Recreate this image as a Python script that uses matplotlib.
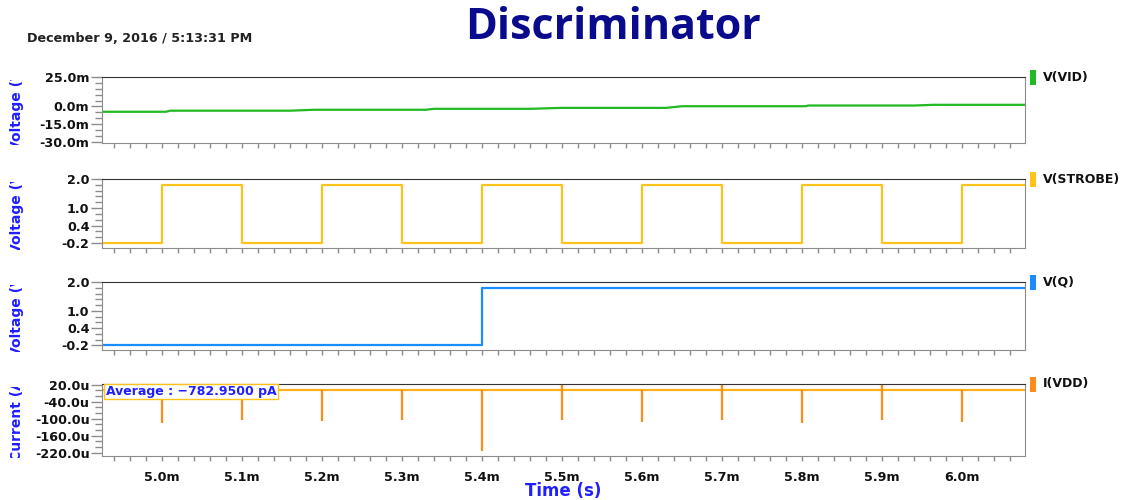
import matplotlib
matplotlib.use("Agg")
import matplotlib.pyplot as plt
from matplotlib.ticker import FixedLocator, MultipleLocator, FuncFormatter, NullFormatter
from matplotlib.transforms import Bbox, TransformedBbox
from matplotlib.patches import Rectangle

# time window, ms
t_start = 4.925
t_end = 6.079

# V(VID) in mV, slow staircase
vid_t = [4.925, 5.005, 5.010, 5.160, 5.190, 5.330, 5.340, 5.460, 5.500,
         5.630, 5.650, 5.805, 5.808, 5.940, 5.965, 6.079]
vid_v = [-4.5, -4.5, -3.6, -3.6, -2.8, -2.8, -2.0, -2.0, -1.2,
         -1.2, 0.2, 0.2, 0.8, 0.8, 1.4, 1.4]

# V(STROBE) in V
strobe_t = [4.925, 5.0, 5.1, 5.2, 5.3, 5.4, 5.5, 5.6, 5.7, 5.8, 5.9, 6.0, 6.079]
strobe_v = [-0.2, 1.8, -0.2, 1.8, -0.2, 1.8, -0.2, 1.8, -0.2, 1.8, -0.2, 1.8, 1.8]

# V(Q) in V
q_t = [4.925, 5.4, 6.079]
q_v = [-0.2, 1.8, 1.8]

# I(VDD) in uA: flat baseline with switching spikes
idd_base = 0.0
spike_t = [5.0, 5.1, 5.2, 5.3, 5.4, 5.5, 5.6, 5.7, 5.8, 5.9, 6.0]
spike_lo = [-115, -105, -108, -105, -215, -105, -112, -105, -115, -105, -112]
spike_hi = [0, 0, 0, 0, 0, 18, 0, 18, 0, 18, 0]
idd_avg_text = "Average : \u2212782.9500 pA"

names = ["V(VID)", "V(STROBE)", "V(Q)", "I(VDD)"]
colors = ["#22b922", "#ffc21a", "#1a8cff", "#ff8c1a"]
ylabels = ["Voltage (V)", "Voltage (V)", "Voltage (V)", "Current (A)"]
yticks = [[25, 0, -15, -30], [2.0, 1.0, 0.4, -0.2], [2.0, 1.0, 0.4, -0.2],
          [20, -40, -100, -160, -220]]
ytick_fmt = ["{:.1f}m", "{:.1f}", "{:.1f}", "{:.1f}u"]
ylims = [(-31, 25), (-0.37, 2.0), (-0.36, 2.0), (-232, 22)]
yminor = [5, 0.2, 0.2, 20]

W, H = 1122, 500
fig = plt.figure(figsize=(W / 100, H / 100), dpi=100)

left, right = 102, 1025
panels = [(77, 143), (179, 248), (282, 350), (384, 456)]  # top, bottom in px
blue = "#1f1fff"
axes = []
for i, (top, bot) in enumerate(panels):
    ax = fig.add_axes([left / W, 1 - bot / H, (right - left) / W, (bot - top) / H])
    axes.append(ax)
    ax.set_xlim(t_start, t_end)
    ax.set_ylim(*ylims[i])
    for s in ["left", "right", "bottom"]:
        ax.spines[s].set_color("#8c8c8c")
    ax.spines["top"].set_color("#333333")
    ax.yaxis.set_major_locator(FixedLocator(yticks[i]))
    ax.yaxis.set_minor_locator(MultipleLocator(yminor[i]))
    fmt = ytick_fmt[i]
    ax.yaxis.set_major_formatter(FuncFormatter(lambda v, p, f=fmt: f.format(v)))
    ax.xaxis.set_major_locator(MultipleLocator(0.1))
    ax.xaxis.set_minor_locator(MultipleLocator(0.02))
    ax.xaxis.set_major_formatter(FuncFormatter(lambda v, p: "{:.1f}m".format(v)))
    ax.tick_params(axis="y", which="major", length=8, width=1, color="#8c8c8c",
                   pad=1, labelsize=9.2)
    ax.tick_params(axis="y", which="minor", length=5, width=1, color="#8c8c8c")
    ax.tick_params(axis="x", which="both", length=3.5, width=1, color="#8c8c8c",
                   pad=7, labelsize=9.2)
    for lab in ax.get_yticklabels() + ax.get_xticklabels():
        lab.set_fontweight("bold")
        lab.set_color("#111111")
    if i < 3:
        ax.xaxis.set_major_formatter(NullFormatter())

    # axis title, clipped to the panel height
    ax.set_ylabel(ylabels[i], color=blue, fontsize=10, fontweight="bold")
    ax.yaxis.set_label_coords(-78 / (right - left), 0.545)
    lab = ax.yaxis.label
    lab.set_clip_box(TransformedBbox(Bbox([[-0.3, -0.03], [0, 0.955]]), ax.transAxes))
    lab.set_clip_on(True)

    # signal name with colour tag at the right
    ytop = 1 - top / H
    fig.add_artist(Rectangle((1030 / W, ytop - 8 / H), 6 / W, 15 / H,
                             transform=fig.transFigure, color=colors[i], lw=0))
    fig.text(1043 / W, ytop, names[i], fontsize=9, fontweight="bold",
             va="center", ha="left", color="#111111")

ax1, ax2, ax3, ax4 = axes
ax1.plot(vid_t, vid_v, color=colors[0], lw=1.6)
ax2.step(strobe_t, strobe_v, where="post", color=colors[1], lw=1.6)
ax3.step(q_t, q_v, where="post", color=colors[2], lw=1.6)
ax4.axhline(idd_base, color="#ffb01a", lw=1.6)
ax4.vlines(spike_t, spike_lo, spike_hi, color=colors[3], lw=1.6)
ax4.text(0.004, 0.985, idd_avg_text, transform=ax4.transAxes, va="top", ha="left",
         fontsize=9, fontweight="bold", color=blue, zorder=10,
         bbox=dict(boxstyle="square,pad=0.1", fc="white", ec="#ffc21a", lw=1))

# x axis title placed directly under the tick labels
fig.text(((left + right) / 2) / W, 1 - 496 / H, "Time (s)", color=blue, fontsize=12,
         fontweight="bold", ha="center", va="baseline")

fig.text(27 / W, 1 - 42 / H, "December 9, 2016 / 5:13:31 PM", fontsize=9.2,
         fontweight="bold", color="#222222", va="baseline", ha="left")
fig.text(613 / W, 1 - 39 / H, "Discriminator", fontsize=31, fontweight="bold",
         family="Open Sans", color="#0a0a8c", va="baseline", ha="center")

fig.savefig("out.png", dpi=100)
